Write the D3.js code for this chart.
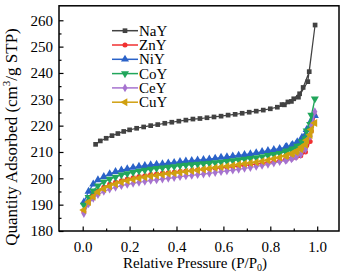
<!DOCTYPE html>
<html><head><meta charset="utf-8">
<script src="https://cdn.jsdelivr.net/npm/d3@7"></script>
<style>body{margin:0;background:#fff}svg{display:block}</style>
</head><body><svg id="c" width="345" height="274"></svg>
<script>
const seriesNames = ["NaY", "ZnY", "NiY", "CoY", "CeY", "CuY"];
const xTicks = [0.0, 0.2, 0.4, 0.6, 0.8, 1.0];
const yTicks = [180, 190, 200, 210, 220, 230, 240, 250, 260];

// NaY: adsorption then desorption
const naP = [0.055,0.075,0.10,0.125,0.15,0.175,0.20,0.23,0.26,0.29,0.32,0.35,0.38,0.41,0.44,0.47,0.50,0.53,0.56,0.59,0.62,0.65,0.68,0.71,0.74,0.77,0.80,0.83,0.86,0.89,0.92,0.96,0.991,0.966,0.94,0.925,0.90,0.875,0.85];
const naV = [212.9,214.2,215.2,216.2,217.0,217.8,218.4,219.0,219.5,220.0,220.4,220.9,221.3,221.7,222.1,222.5,222.7,223.0,223.3,223.6,224.0,224.3,224.7,225.1,225.5,225.9,226.4,227.0,227.9,229.2,230.8,236.7,258.2,240.5,234.5,232.1,230.2,229.0,228.0];

// metal-exchanged samples: shared relative pressures (adsorption, then desorption)
const mP = [0.005,0.025,0.045,0.065,0.09,0.115,0.14,0.165,0.19,0.215,0.24,0.265,0.29,0.315,0.34,0.365,0.39,0.415,0.44,0.465,0.49,0.515,0.54,0.565,0.59,0.615,0.64,0.665,0.69,0.715,0.74,0.765,0.79,0.815,0.84,0.865,0.89,0.91,0.93,0.95,0.97,0.99,0.975,0.955,0.935,0.915,0.895,0.87];
const znV = [187.3,191.5,193.8,195.3,196.6,197.7,198.5,199.1,199.7,200.2,200.7,201.0,201.4,201.6,201.9,202.1,202.3,202.6,202.8,203.0,203.2,203.4,203.6,203.8,204.0,204.2,204.4,204.6,204.9,205.1,205.4,205.7,206.0,206.3,206.7,207.1,207.5,208.0,208.6,210.0,214.0,223.8,218.0,212.5,209.8,208.6,207.8,207.2];
const niV = [191.0,195.0,197.8,199.4,200.6,201.7,202.5,203.1,203.6,204.1,204.5,204.8,205.1,205.3,205.5,205.8,206.0,206.3,206.5,206.7,206.9,207.1,207.3,207.6,207.9,208.1,208.4,208.7,209.0,209.3,209.7,210.1,210.5,210.9,211.3,211.8,212.4,213.1,214.1,216.5,220.0,223.8,222.0,218.5,215.5,213.8,212.8,212.0];
const coV = [189.8,192.8,195.3,197.2,198.7,199.7,200.5,201.3,201.8,202.3,202.8,203.1,203.5,203.8,204.0,204.3,204.5,204.8,205.0,205.2,205.4,205.6,205.8,206.0,206.2,206.5,206.7,207.0,207.3,207.6,207.9,208.3,208.7,209.1,209.5,210.1,210.7,211.3,212.3,215.0,220.5,230.2,224.0,218.0,214.0,212.2,211.2,210.4];
const ceV = [186.6,190.3,192.4,193.8,195.0,195.9,196.6,197.2,197.7,198.1,198.5,198.8,199.2,199.4,199.7,200.0,200.3,200.6,200.9,201.1,201.4,201.6,201.9,202.2,202.5,202.8,203.1,203.4,203.8,204.1,204.5,204.9,205.3,205.8,206.3,206.8,207.4,208.1,209.0,211.0,216.0,225.3,220.0,214.0,210.5,208.8,207.8,207.0];
const cuV = [188.0,191.0,193.0,194.8,196.0,197.0,197.8,198.5,199.1,199.6,200.0,200.4,200.8,201.1,201.4,201.7,201.9,202.2,202.5,202.8,203.1,203.4,203.7,204.0,204.3,204.6,204.9,205.2,205.5,205.8,206.1,206.5,206.9,207.4,207.9,208.5,209.2,210.0,211.0,212.8,216.5,221.0,218.5,214.5,212.0,210.6,209.6,208.7];

const colors = ["#424242", "#F03030", "#2A62C8", "#21A65B", "#A673CF", "#D0A010"];

const series = [
  {name: seriesNames[0], p: naP, v: naV, color: colors[0], shape: "square"},
  {name: seriesNames[1], p: mP, v: znV, color: colors[1], shape: "circle"},
  {name: seriesNames[2], p: mP, v: niV, color: colors[2], shape: "up"},
  {name: seriesNames[3], p: mP, v: coV, color: colors[3], shape: "down"},
  {name: seriesNames[4], p: mP, v: ceV, color: colors[4], shape: "diamond"},
  {name: seriesNames[5], p: mP, v: cuV, color: colors[5], shape: "left"}
];

const FONT = "'Liberation Serif','Times New Roman',serif";
const L = 59, R = 339, T = 5.8, B = 231;
const svg = d3.select("#c");
const x = d3.scaleLinear().domain([0, 1]).range([82.7, 317.2]);
const y = d3.scaleLinear().domain([180, 265.5]).range([B, T]);

const symType = {square: d3.symbolSquare, circle: d3.symbolCircle, up: d3.symbolTriangle, down: d3.symbolTriangle, diamond: d3.symbolDiamond, left: d3.symbolTriangle};
const symSize = {square: 22, circle: 20, up: 28, down: 28, diamond: 22, left: 28};
const symRot = {square: 0, circle: 0, up: 0, down: 180, diamond: 0, left: -90};
function sym(shape) { return d3.symbol().type(symType[shape]).size(symSize[shape])(); }

const plot = svg.append("g");
series.forEach(s => {
  const pts = s.p.map((p, i) => [p, s.v[i]]);
  plot.append("path")
    .attr("d", d3.line().x(d => x(d[0])).y(d => y(d[1]))(pts))
    .attr("fill", "none").attr("stroke", s.color).attr("stroke-width", 1.2);
  plot.selectAll(null).data(pts).enter().append("path")
    .attr("d", sym(s.shape))
    .attr("transform", d => `translate(${x(d[0])},${y(d[1])}) rotate(${symRot[s.shape]})`)
    .attr("fill", s.color);
});

// frame
svg.append("rect").attr("x", L).attr("y", T).attr("width", R - L).attr("height", B - T)
  .attr("fill", "none").attr("stroke", "#000").attr("stroke-width", 1.5);

// x axis (ticks inward)
const xAxis = d3.axisBottom(x).tickValues(xTicks).tickSize(-4.5).tickPadding(10).tickFormat(d3.format(".1f"));
const gx = svg.append("g").attr("transform", `translate(0,${B})`).call(xAxis);
gx.select(".domain").remove();
gx.selectAll("line").attr("stroke-width", 1.2);
gx.selectAll("text").attr("font-family", FONT).attr("font-size", 15).attr("fill", "#000");
const xMinor = d3.axisBottom(x).tickValues([0.1, 0.3, 0.5, 0.7, 0.9]).tickSize(-2.5).tickFormat("");
const gxm = svg.append("g").attr("transform", `translate(0,${B})`).call(xMinor);
gxm.select(".domain").remove();
gxm.selectAll("line").attr("stroke-width", 1.2);

// y axis (ticks inward)
const yAxis = d3.axisLeft(y).tickValues(yTicks).tickSize(-4.5).tickPadding(6).tickFormat(d3.format("d"));
const gy = svg.append("g").attr("transform", `translate(${L},0)`).call(yAxis);
gy.select(".domain").remove();
gy.selectAll("line").attr("stroke-width", 1.2);
gy.selectAll("text").attr("font-family", FONT).attr("font-size", 15).attr("fill", "#000");
const yMinor = d3.axisLeft(y).tickValues([185, 195, 205, 215, 225, 235, 245, 255]).tickSize(-2.5).tickFormat("");
const gym = svg.append("g").attr("transform", `translate(${L},0)`).call(yMinor);
gym.select(".domain").remove();
gym.selectAll("line").attr("stroke-width", 1.2);

// axis titles
const xt = svg.append("text").attr("x", 195).attr("y", 268).attr("text-anchor", "middle")
  .attr("font-family", FONT).attr("font-size", 15).attr("fill", "#000");
xt.append("tspan").text("Relative Pressure (P/P");
xt.append("tspan").text("0").attr("font-size", 10).attr("dy", 3);
xt.append("tspan").text(")").attr("dy", -3);

const yt = svg.append("text").attr("transform", "translate(16.5,137) rotate(-90)").attr("text-anchor", "middle")
  .attr("font-family", FONT).attr("font-size", 17).attr("fill", "#000");
yt.append("tspan").text("Quantity Adsorbed (cm");
yt.append("tspan").text("3").attr("font-size", 11).attr("dy", -7);
yt.append("tspan").text("/g STP)").attr("dy", 7);

// legend
const leg = svg.append("g");
series.forEach((s, i) => {
  const ly = 30.7 + i * 14.3;
  leg.append("line").attr("x1", 112).attr("x2", 138).attr("y1", ly).attr("y2", ly)
    .attr("stroke", s.color).attr("stroke-width", 1.5);
  leg.append("path").attr("d", sym(s.shape))
    .attr("transform", `translate(125,${ly}) rotate(${symRot[s.shape]})`).attr("fill", s.color);
  leg.append("text").attr("x", 139).attr("y", ly + 5).text(s.name)
    .attr("font-family", FONT).attr("font-size", 15).attr("fill", "#000");
});
</script></body></html>
